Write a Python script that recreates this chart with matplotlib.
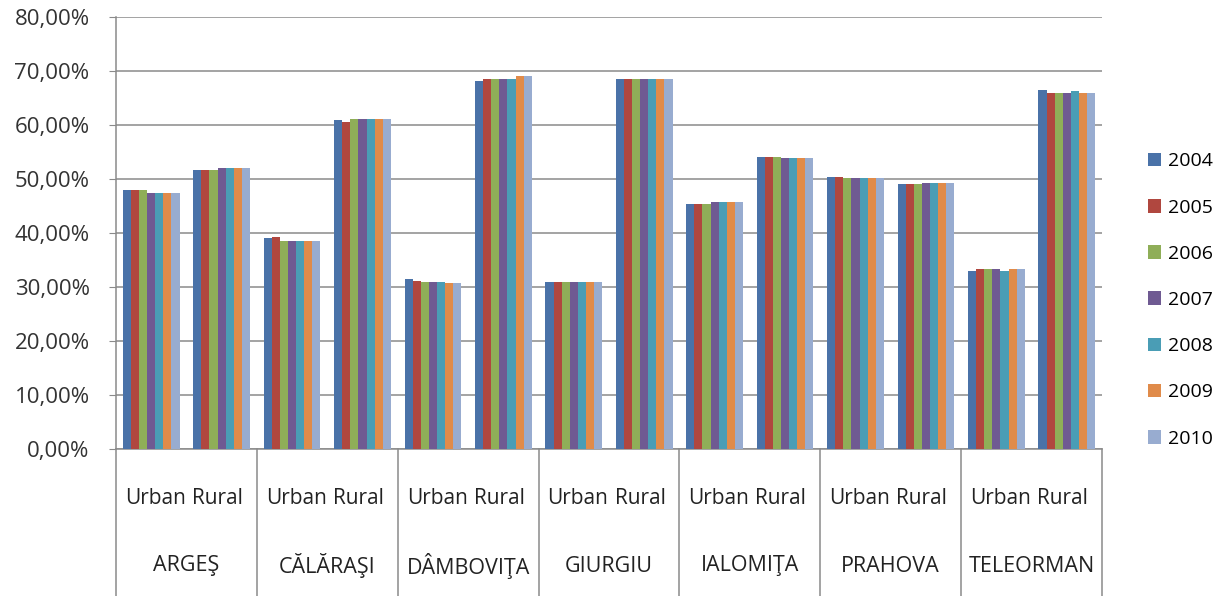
import numpy as np
import matplotlib.pyplot as plt
from matplotlib.transforms import blended_transform_factory

plt.rcParams["font.family"] = ["Open Sans", "DejaVu Sans"]

counties = ["ARGEŞ", "CĂLĂRAŞI", "DÂMBOVIŢA", "GIURGIU", "IALOMIŢA", "PRAHOVA", "TELEORMAN"]
areas = ["Urban", "Rural"]
years = ["2004", "2005", "2006", "2007", "2008", "2009", "2010"]

# values in percent, one list per year, order: county x (Urban, Rural)
y2004 = [48.0, 51.6, 39.0, 60.9, 31.5, 68.2, 31.0, 68.6, 45.4, 54.1, 50.4, 49.0, 33.0, 66.4]
y2005 = [48.0, 51.6, 39.2, 60.5, 31.2, 68.6, 31.0, 68.6, 45.4, 54.1, 50.4, 49.0, 33.4, 66.0]
y2006 = [47.9, 51.6, 38.5, 61.2, 31.0, 68.6, 31.0, 68.6, 45.4, 54.0, 50.2, 49.0, 33.4, 66.0]
y2007 = [47.5, 52.0, 38.5, 61.2, 31.0, 68.6, 31.0, 68.6, 45.7, 53.8, 50.1, 49.3, 33.4, 66.0]
y2008 = [47.5, 52.0, 38.5, 61.2, 31.0, 68.6, 31.0, 68.6, 45.7, 53.8, 50.1, 49.3, 33.0, 66.3]
y2009 = [47.5, 52.0, 38.5, 61.2, 30.8, 69.1, 31.0, 68.6, 45.7, 53.8, 50.1, 49.3, 33.4, 66.0]
y2010 = [47.5, 52.0, 38.5, 61.2, 30.7, 69.1, 31.0, 68.6, 45.7, 53.8, 50.1, 49.3, 33.4, 66.0]

series = [y2004, y2005, y2006, y2007, y2008, y2009, y2010]
colors = ["#4a72a8", "#b0473f", "#8fae58", "#6f5a92", "#4a9db5", "#e08b4a", "#98acd0"]

fig = plt.figure(figsize=(12.31, 5.96), dpi=100)
ax = fig.add_axes([116 / 1231, 1 - 449 / 596, (1102 - 116) / 1231, (449 - 17) / 596])

n_cat = len(counties) * len(areas)
x = np.arange(n_cat) + 0.5
bar_w = 0.115
for i, (vals, col) in enumerate(zip(series, colors)):
    offset = (i - 3) * bar_w
    ax.bar(x + offset, np.array(vals) / 100.0, width=bar_w, color=col, label=years[i], zorder=3)

ax.set_xlim(0, n_cat)
ax.set_ylim(0, 0.8)
ax.set_yticks(np.arange(0, 0.81, 0.1))
ax.set_yticklabels([f"{v:.2f}%".replace(".", ",") for v in np.arange(0, 81, 10)], fontsize=16, color="#333333")
ax.yaxis.grid(True, color="#8a8a8a", linewidth=1.1, zorder=0)
ax.tick_params(axis="y", length=5, color="#8a8a8a", pad=14)
ax.set_xticks([])
for side in ["top", "right"]:
    ax.spines[side].set_visible(False)
for side in ["left", "bottom"]:
    ax.spines[side].set_color("#8a8a8a")
    ax.spines[side].set_linewidth(1.1)

trans = blended_transform_factory(ax.transData, ax.transAxes)
ext = -147 / 432
for k in range(len(counties) + 1):
    ax.plot([2 * k, 2 * k], [0, ext], transform=trans, color="#8a8a8a", linewidth=1.1, clip_on=False)
for j in range(n_cat):
    ax.text(x[j] + (0.06 if j % 2 == 0 else -0.06), -49 / 432, areas[j % 2], transform=trans,
            ha="center", va="center", fontsize=15, color="#222222")
for k, name in enumerate(counties):
    ax.text(2 * k + 1, -117 / 432, name, transform=trans, ha="center", va="center", fontsize=15.5, color="#222222")

ax.legend(loc="center left", bbox_to_anchor=(1140 / 1231, 1 - 300 / 596), bbox_transform=fig.transFigure,
          frameon=False, fontsize=14, handlelength=0.7, handleheight=0.7, handletextpad=0.35,
          labelspacing=1.45, borderaxespad=0)

fig.savefig("out.png", dpi=100)
